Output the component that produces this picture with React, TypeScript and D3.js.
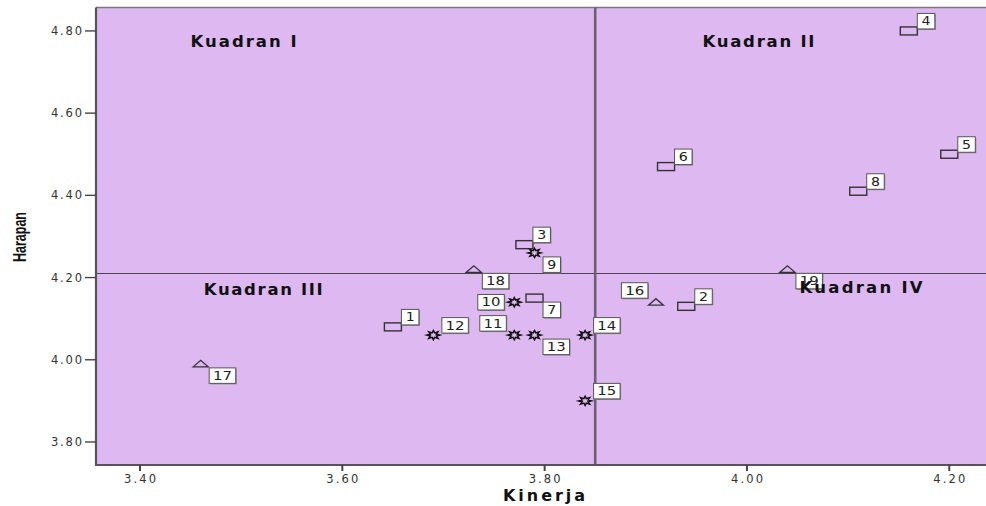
import * as d3 from 'd3'

// point ids and coordinates (Kinerja = x, Harapan = y)
const ids = [1, 2, 3, 4, 5, 6, 7, 8, 9, 10, 11, 12, 13, 14, 15, 16, 17, 18, 19]
const kinerja = [3.65, 3.94, 3.78, 4.16, 4.2, 3.92, 3.79, 4.11, 3.79, 3.77, 3.77, 3.69, 3.79, 3.84, 3.84, 3.91, 3.46, 3.73, 4.04]
const harapan = [4.08, 4.13, 4.28, 4.8, 4.5, 4.47, 4.15, 4.41, 4.26, 4.14, 4.06, 4.06, 4.06, 4.06, 3.9, 4.14, 3.99, 4.22, 4.22]
const markerType = [
  'rect', 'rect', 'rect', 'rect', 'rect', 'rect', 'rect', 'rect',
  'star', 'star', 'star', 'star', 'star', 'star', 'star',
  'tri', 'tri', 'tri', 'tri'
]
// where SPSS put each point label: ur / lr / ul / l
const labelPlace = ['ur', 'ur', 'ur', 'ur', 'ur', 'ur', 'lr', 'ur', 'lr', 'l', 'ul', 'ur', 'lr', 'ur', 'ur', 'ul', 'lr', 'lr', 'lr']

const xTicks = [3.4, 3.6, 3.8, 4.0, 4.2]
const yTicks = [3.8, 4.0, 4.2, 4.4, 4.6, 4.8]

const refX = 3.85
const refY = 4.21

const quadNames = ['Kuadran I', 'Kuadran II', 'Kuadran III', 'Kuadran IV']
const quadX = [3.45, 3.956, 3.463, 4.052]
const quadY = [4.762, 4.762, 4.158, 4.163]
const quadWidth = [106, 112, 119, 123]

const W = 986
const H = 506
const plot = { left: 96, right: 986, top: 7.5, bottom: 465 }

const x = d3.scaleLinear().domain([3.3565, 4.2363]).range([plot.left, plot.right])
const y = d3.scaleLinear().domain([3.744, 4.857]).range([plot.bottom, plot.top])
const fmt = d3.format('.2f')

const starPath = (cx: number, cy: number) => {
  const n = 8
  const pts = d3.range(n * 2).map(i => {
    const a = (Math.PI * i) / n
    const outer = i % 2 === 0
    const rx = outer ? 6.5 : 3.3
    const ry = outer ? 4.6 : 2.4
    return [cx + rx * Math.cos(a), cy + ry * Math.sin(a)] as [number, number]
  })
  return d3.line()(pts) + 'Z'
}

const ink = '#333'
const tickFont = 'DejaVu Sans, Verdana, sans-serif'

export default function App() {
  const points = ids.map((id, i) => ({
    id,
    cx: x(kinerja[i]),
    cy: y(harapan[i]),
    type: markerType[i],
    place: labelPlace[i]
  }))

  return (
    <svg width={W} height={H} style={{ position: 'absolute', left: 0, top: 0, display: 'block' }}>
      <rect x={0} y={0} width={W} height={H} fill="#fff" />
      {/* plot background */}
      <rect x={plot.left} y={plot.top} width={plot.right - plot.left} height={plot.bottom - plot.top} fill="#deb8f1" />
      <line x1={plot.left} x2={plot.right} y1={plot.top} y2={plot.top} stroke="#7d7480" strokeWidth={1.5} />

      {/* reference lines */}
      <line x1={plot.left} x2={plot.right} y1={y(refY)} y2={y(refY)} stroke="#4b4450" strokeWidth={1.1} />
      <line x1={x(refX)} x2={x(refX)} y1={plot.top} y2={plot.bottom} stroke="#6b6170" strokeWidth={2.6} />

      {/* axes */}
      <line x1={plot.left} x2={plot.left} y1={plot.top} y2={plot.bottom + 1} stroke="#58535b" strokeWidth={2.2} />
      <line x1={plot.left - 1} x2={plot.right} y1={plot.bottom} y2={plot.bottom} stroke="#58535b" strokeWidth={2} />

      {yTicks.map(t => (
        <g key={'y' + t}>
          <line x1={plot.left - 11} x2={plot.left} y1={y(t)} y2={y(t)} stroke="#444" strokeWidth={1.4} />
          <text x={82} y={y(t) + 4} textAnchor="end" fontFamily={tickFont} fontSize={11.5} fill="#333"
            textLength={31} lengthAdjust="spacing">{fmt(t)}</text>
        </g>
      ))}
      {xTicks.map(t => (
        <g key={'x' + t}>
          <line x1={x(t)} x2={x(t)} y1={plot.bottom} y2={plot.bottom + 6} stroke="#444" strokeWidth={2} />
          <text x={x(t)} y={482.5} textAnchor="middle" fontFamily={tickFont} fontSize={11.5} fill="#333"
            textLength={32} lengthAdjust="spacing">{fmt(t)}</text>
        </g>
      ))}

      {/* axis titles */}
      <text transform="translate(25.5,237) rotate(-90)" textAnchor="middle"
        fontFamily="Liberation Sans Narrow, Liberation Sans, Arial, sans-serif" fontWeight="bold" fontSize={17.5}
        fill="#111" textLength={50} lengthAdjust="spacingAndGlyphs">Harapan</text>
      <text x={503} y={501} fontFamily={tickFont} fontWeight="bold" fontSize={16} fill="#111"
        textLength={82} lengthAdjust="spacing">Kinerja</text>

      {/* markers */}
      {points.map(p => {
        if (p.type === 'rect') {
          return <rect key={'m' + p.id} x={p.cx - 8.5} y={p.cy - 4} width={17} height={8}
            fill="none" stroke={ink} strokeWidth={1.4} />
        }
        if (p.type === 'tri') {
          return <path key={'m' + p.id}
            d={`M${p.cx - 7.5},${p.cy + 3}L${p.cx},${p.cy - 3.5}L${p.cx + 7.5},${p.cy + 3}Z`}
            fill="none" stroke={ink} strokeWidth={1.3} />
        }
        return <path key={'m' + p.id} d={starPath(p.cx, p.cy)} fill="none" stroke="#111" strokeWidth={1.5} />
      })}

      {/* point labels */}
      {points.map(p => {
        const two = p.id >= 10
        const w = two ? 26.5 : 17.5
        const h = 15.5
        let bx = p.cx + 8.5
        let by = p.cy - 2 - h
        if (p.place === 'lr') { by = p.cy + 4 }
        if (p.place === 'ul') { bx = p.cx - 8 - w; by = p.cy - 4 - h }
        if (p.place === 'l') { bx = p.cx - 10 - w; by = p.cy - h / 2 }
        return (
          <g key={'l' + p.id}>
            <rect x={bx + 1} y={by + 1} width={w} height={h} fill="#8a8290" />
            <rect x={bx} y={by} width={w} height={h} fill="#fff" stroke="#555" strokeWidth={1} />
            <text x={bx + w / 2} y={by + 12} textAnchor="middle" fontFamily={tickFont} fontSize={11.5}
              fill="#222" textLength={two ? 19 : 9} lengthAdjust="spacingAndGlyphs">{p.id}</text>
          </g>
        )
      })}

      {/* quadrant labels */}
      {quadNames.map((q, i) => (
        <text key={q} x={x(quadX[i])} y={y(quadY[i])} fontFamily={tickFont} fontWeight="bold" fontSize={16.5}
          fill="#111" textLength={quadWidth[i]} lengthAdjust="spacing">{q}</text>
      ))}
    </svg>
  )
}
